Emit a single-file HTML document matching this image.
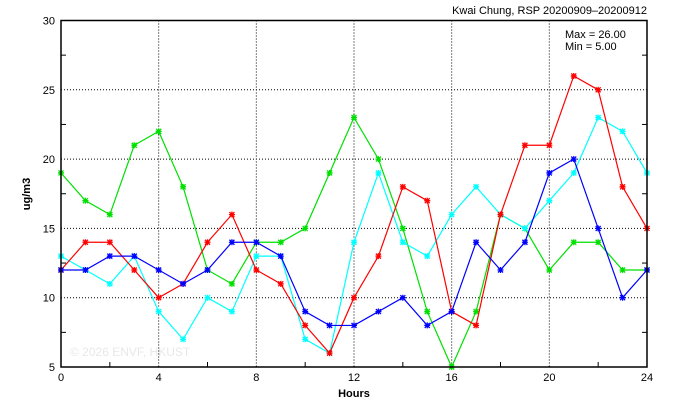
<!DOCTYPE html>
<html><head><meta charset="utf-8"><style>
body{margin:0;background:#fff;}
svg{display:block;font-family:"Liberation Sans",sans-serif;}
</style></head><body>
<svg id="chart" width="674" height="409">
<text x="647" y="14" text-anchor="end" font-size="11">Kwai Chung, RSP 20200909–20200912</text>
<text x="565" y="38" font-size="11">Max = 26.00</text>
<text x="565" y="50" font-size="11">Min =  5.00</text>
<text x="70" y="356" font-size="12" fill="#e8e8e8">© 2026  ENVF, HKUST</text>
<text x="354" y="397" text-anchor="middle" font-size="11" font-weight="bold">Hours</text>
<text transform="translate(30,194) rotate(-90)" text-anchor="middle" font-size="11" font-weight="bold">ug/m3</text>
<g id="grid"></g><g id="series"></g><g id="axes"></g>
</svg>
<script>
const xTicks=[0,4,8,12,16,20,24];
const yTicks=[5,10,15,20,25,30];
const red=[12,14,14,12,10,11,14,16,12,11,8,6,10,13,18,17,9,8,16,21,21,26,25,18,15];
const green=[19,17,16,21,22,18,12,11,14,14,15,19,23,20,15,9,5,9,16,15,12,14,14,12,12];
const blue=[12,12,13,13,12,11,12,14,14,13,9,8,8,9,10,8,9,14,12,14,19,20,15,10,12];
const cyan=[13,12,11,13,9,7,10,9,13,13,7,6,14,19,14,13,16,18,16,15,17,19,23,22,19];
const L=61,R=647,T=20.5,B=367;
const sx=h=>L+(R-L)*h/24, sy=v=>B-(B-T)*(v-5)/25;
const NS='http://www.w3.org/2000/svg';
function mk(t,a,p){const e=document.createElementNS(NS,t);for(const k in a)e.setAttribute(k,a[k]);p.appendChild(e);return e;}
const grid=document.getElementById('grid'),axes=document.getElementById('axes'),ser=document.getElementById('series');
xTicks.forEach(h=>{
 if(h>0&&h<24){const g=mk('line',{x1:sx(h),x2:sx(h),y1:T,y2:B,stroke:'#000','stroke-width':1,'stroke-dasharray':'1,2'},grid);
 
 }
 const t=mk('text',{x:sx(h),y:B+14,'text-anchor':'middle','font-size':11},axes);t.textContent=h;
 
 
});
for(let h=2;h<24;h+=4){mk('line',{x1:sx(h),x2:sx(h),y1:B,y2:B-5,stroke:'#000'},axes);}
yTicks.forEach(v=>{
 if(v>5&&v<30){const g=mk('line',{x1:L,x2:R,y1:sy(v),y2:sy(v),stroke:'#000','stroke-width':1,'stroke-dasharray':'1,2'},grid);
 
 }
 const t=mk('text',{x:L-6,y:sy(v)+4,'text-anchor':'end','font-size':11},axes);t.textContent=v;
 
 
});
for(let v=7.5;v<30;v+=5){mk('line',{x1:L,x2:L+5,y1:sy(v),y2:sy(v),stroke:'#000'},axes);mk('line',{x1:R,x2:R-5,y1:sy(v),y2:sy(v),stroke:'#000'},axes);}
const frame=mk('rect',{x:L,y:T,width:R-L,height:B-T,fill:'none',stroke:'#000','stroke-width':1.5},axes);


[[green,'#00e000','green'],[cyan,'#00ffff','cyan'],[red,'#ff0000','red'],[blue,'#0000ff','blue']].forEach(([d,c,n])=>{
 const g=mk('g',{},ser);
 
 
 mk('polyline',{points:d.map((v,i)=>sx(i)+','+sy(v)).join(' '),fill:'none',stroke:c,'stroke-width':1.2},g);
 d.forEach((v,i)=>{const x=sx(i),y=sy(v);
  const m=mk('path',{d:`M${x-2.5},${y-2.5}L${x+2.5},${y+2.5}M${x-2.5},${y+2.5}L${x+2.5},${y-2.5}M${x-3},${y}L${x+3},${y}M${x},${y-3}L${x},${y+3}`,stroke:c,'stroke-width':1.3},g);
  
  
 });
});
</script>
</body></html>
